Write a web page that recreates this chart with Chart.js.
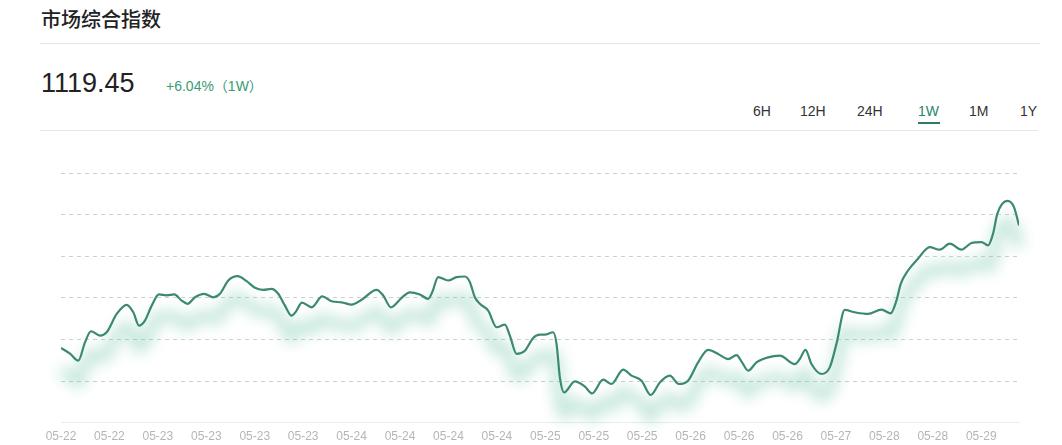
<!DOCTYPE html>
<html>
<head>
<meta charset="utf-8">
<script src="https://cdn.jsdelivr.net/npm/chart.js@4.4.1/dist/chart.umd.min.js"></script>
<style>
  html, body { margin: 0; padding: 0; background: #fff; }
  body { width: 1062px; height: 445px; position: relative; overflow: hidden; font-family: "Liberation Sans", Arial, "Noto Sans CJK SC", sans-serif; }
  #title { position: absolute; left: 41px; top: 9px; font-family: "Noto Sans CJK SC", sans-serif; font-size: 20px; line-height: 20px; font-weight: 500; color: #222; }
  .sep { position: absolute; left: 40px; height: 1px; background: #e6e6e6; }
  #price { position: absolute; left: 41px; top: 70px; font-size: 27px; line-height: 27px; color: #222; white-space: nowrap; }
  #chg { position: absolute; left: 166px; top: 78px; font-size: 14px; line-height: 16px; color: #3a9a74; white-space: nowrap; }
  .tab { position: absolute; top: 103px; font-size: 14px; line-height: 16px; color: #333; }
  .tab.on { color: #2e8466; }
  #uline { position: absolute; left: 918px; top: 122px; width: 22px; height: 2px; background: #2e7d63; }
  #wrap { position: absolute; left: 0; top: 140px; width: 1062px; height: 313px; }
</style>
</head>
<body>
<div id="title"></div>
<div class="sep" style="top:43px;width:1000px"></div>
<span id="price"></span><span id="chg"></span>
<div id="tabs"></div>
<div id="uline"></div>
<div class="sep" style="top:130px;width:998px"></div>
<div id="wrap"><canvas id="c"></canvas></div>
<script>
// ---- header texts ----
const titleText = "市场综合指数";
const priceText = "1119.45";
const changeText = "+6.04%（1W）";
const tabNames = ["6H", "12H", "24H", "1W", "1M", "1Y"];
const activeTab = "1W";

// ---- x tick labels (one every 8 h) ----
const tickLabels = ["05-22","05-22","05-23","05-23","05-23","05-23","05-24","05-24","05-24","05-24",
                    "05-25","05-25","05-25","05-26","05-26","05-26","05-27","05-28","05-28","05-29"];

// ---- series: time (hours from start) and index value ----
const times = [0, 1.49, 2.86, 3.96, 4.95, 6.44, 7.55, 9.20, 10.85, 11.94,
  12.88, 13.87, 14.98, 16.18, 17.45, 18.71, 19.93, 20.92, 22.13, 23.66,
  25.15, 26.25, 27.63, 29.18, 30.66, 32.03, 33.40, 34.79, 35.88, 36.99,
  38.09, 38.80, 39.80, 41.40, 43.15, 44.70, 46.35, 48.00, 49.65, 52.13,
  53.22, 54.49, 56.26, 57.63, 59.28, 60.65, 61.31, 62.30, 63.95, 65.34,
  66.71, 67.54, 68.36, 69.19, 70.56, 71.95, 73.32, 74.14, 75.25, 76.62,
  77.99, 79.10, 79.92, 81.29, 81.85, 82.40, 83.11, 84.87, 86.53, 87.73,
  89.55, 90.93, 92.85, 94.24, 95.89, 97.42, 98.91, 100.56, 102.05, 103.58,
  105.24, 106.89, 108.54, 110.19, 111.58, 112.50, 113.49, 114.88, 116.79, 118.73,
  121.20, 122.03, 122.97, 123.96, 125.61, 126.98, 128.09, 129.46, 131.11, 133.31,
  135.52, 137.05, 137.99, 138.71, 139.91, 141.56, 143.49, 145.14, 146.80, 148.73,
  150.38, 152.03, 153.12, 153.95, 154.67, 156.32, 157.41, 158.24];
const values = [1044.9, 1041.4, 1037.2, 1048.2, 1054.9, 1052.3, 1054.3, 1065.3, 1070.8, 1066.3,
  1058.3, 1061.3, 1070.3, 1077.0, 1076.5, 1077.0, 1073.3, 1071.4, 1075.3, 1077.4,
  1075.3, 1077.4, 1085.4, 1088.0, 1085.0, 1081.0, 1079.8, 1080.4, 1077.4, 1070.3,
  1064.3, 1066.7, 1072.1, 1069.3, 1075.8, 1072.9, 1072.3, 1070.9, 1073.8, 1079.8,
  1076.4, 1069.3, 1075.0, 1078.3, 1077.0, 1074.4, 1078.3, 1087.4, 1085.4, 1087.4,
  1087.8, 1084.4, 1075.3, 1071.4, 1067.3, 1057.3, 1058.9, 1052.3, 1041.3, 1043.2,
  1050.9, 1052.9, 1052.9, 1054.3, 1047.3, 1027.2, 1018.1, 1024.8, 1021.6, 1017.5,
  1025.8, 1023.2, 1031.8, 1028.2, 1025.2, 1016.6, 1024.1, 1028.2, 1023.2, 1025.2,
  1036.2, 1043.7, 1041.3, 1038.2, 1040.6, 1036.2, 1031.2, 1036.2, 1039.2, 1040.2,
  1035.2, 1038.2, 1043.7, 1035.2, 1029.2, 1033.2, 1047.3, 1067.7, 1066.3, 1065.3,
  1067.9, 1065.7, 1073.3, 1083.4, 1091.4, 1098.5, 1105.4, 1103.9, 1107.5, 1103.9,
  1107.9, 1108.5, 1106.5, 1113.5, 1125.6, 1133.2, 1129.5, 1118.5];

// ---- header ----
document.getElementById('title').textContent = titleText;
document.getElementById('price').textContent = priceText;
document.getElementById('chg').textContent = changeText;
const tabLeft = [753, 800, 857, 918, 969, 1020];
const tabsEl = document.getElementById('tabs');
tabNames.forEach((n, i) => {
  const s = document.createElement('span');
  s.className = 'tab' + (n === activeTab ? ' on' : '');
  s.style.left = tabLeft[i] + 'px';
  s.textContent = n;
  tabsEl.appendChild(s);
});

// ---- chart ----
const points = times.map((t, i) => ({ x: t, y: values[i] }));
const TICK_STEP = 8;

const glowPlugin = {
  id: 'glow',
  beforeDatasetDraw(chart, args) {
    if (args.index !== 1) return;
    const ctx = chart.ctx;
    ctx.save();
    ctx.translate(0, 22);
    ctx.filter = 'blur(7px)';
  },
  afterDatasetDraw(chart, args) {
    if (args.index !== 1) return;
    chart.ctx.restore();
  }
};

new Chart(document.getElementById('c'), {
  type: 'line',
  data: {
    datasets: [
      {
        data: points,
        borderColor: '#3b8a70',
        borderWidth: 2.2,
        pointRadius: 0,
        cubicInterpolationMode: 'monotone',
        fill: false,
        order: 1
      },
      {
        data: points,
        borderColor: 'rgba(120, 200, 170, 0.42)',
        borderWidth: 12,
        pointRadius: 0,
        cubicInterpolationMode: 'monotone',
        fill: false,
        clip: false,
        order: 2
      }
    ]
  },
  plugins: [glowPlugin],
  options: {
    responsive: true,
    maintainAspectRatio: false,
    animation: false,
    events: [],
    layout: { padding: { left: 61, right: 43, top: 33, bottom: 2 } },
    plugins: { legend: { display: false }, tooltip: { enabled: false } },
    scales: {
      x: {
        type: 'linear',
        min: times[0],
        max: times[times.length - 1],
        afterBuildTicks(scale) {
          scale.ticks = tickLabels.map((_, i) => ({ value: i * TICK_STEP }));
        },
        ticks: {
          autoSkip: false,
          maxRotation: 0,
          padding: 7,
          color: '#b5b5b5',
          font: { family: '"Liberation Sans", Arial, sans-serif', size: 12 },
          callback: (v, i) => tickLabels[i]
        },
        grid: { display: false, drawTicks: false },
        border: { display: true, color: '#ececec', width: 1 }
      },
      y: {
        min: 1000,
        max: 1150,
        ticks: { display: false, stepSize: 25 },
        grid: {
          drawTicks: false,
          color: (c) => (c.tick && c.tick.value === 1000) ? 'rgba(0,0,0,0)' : '#cfcfcf',
          lineWidth: 1
        },
        border: { display: false, dash: [4, 4] }
      }
    }
  }
});
</script>
</body>
</html>
